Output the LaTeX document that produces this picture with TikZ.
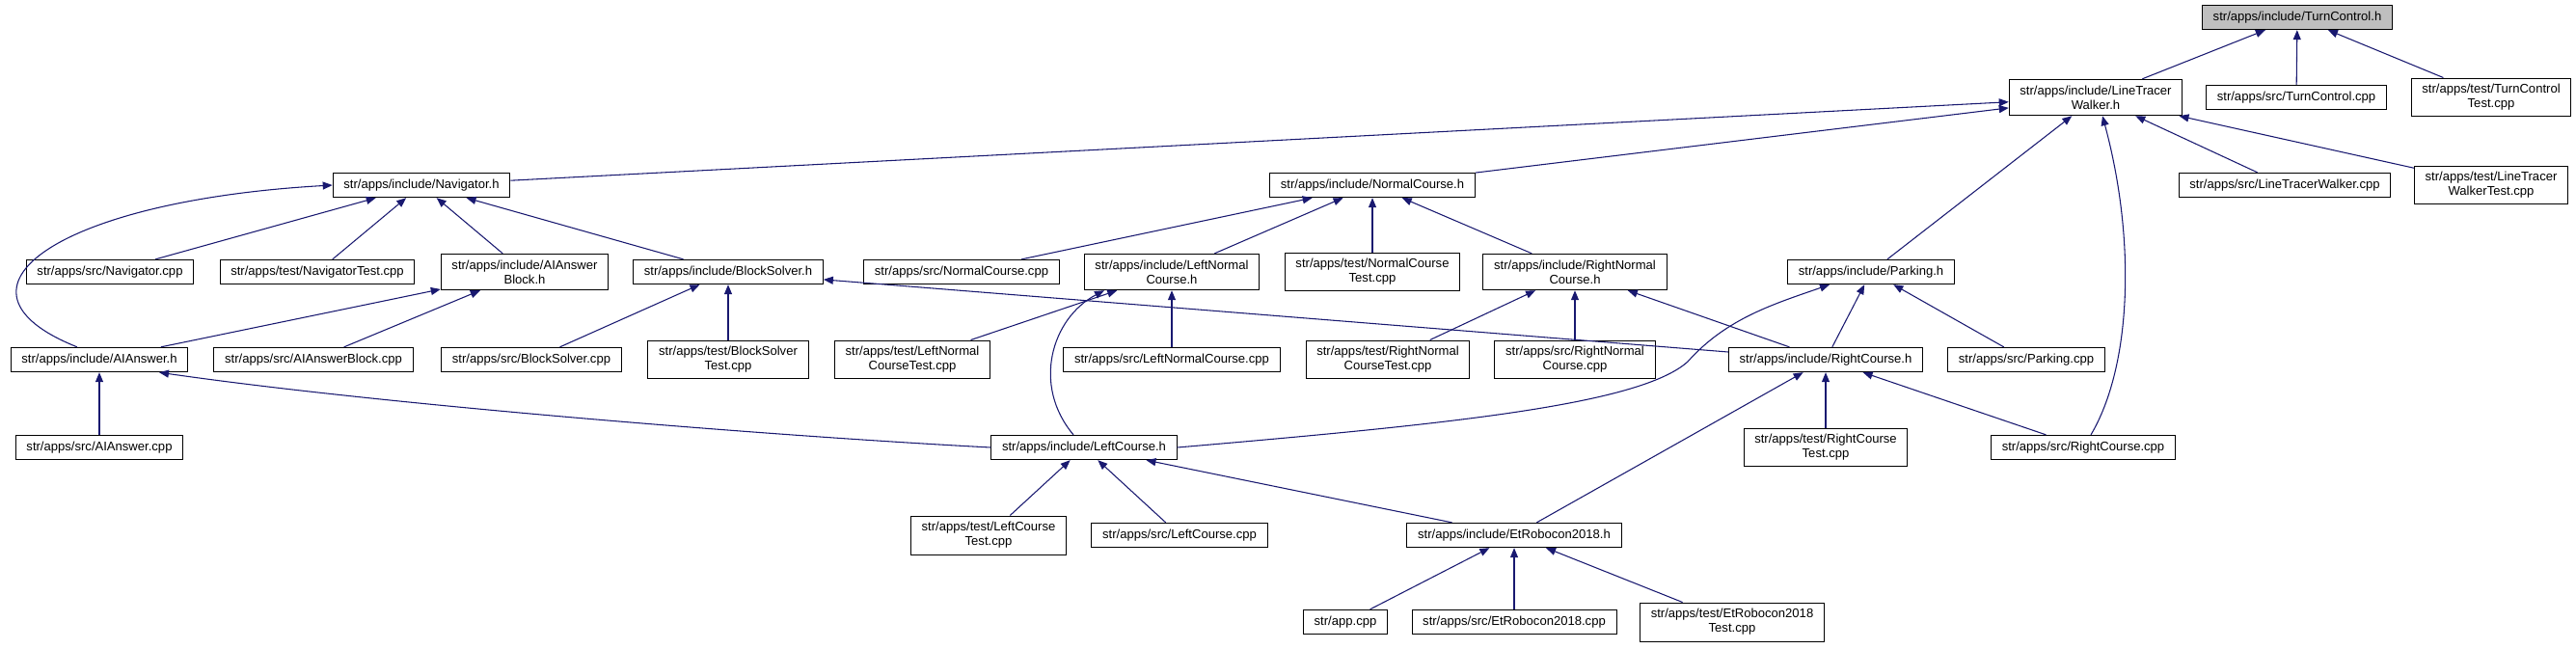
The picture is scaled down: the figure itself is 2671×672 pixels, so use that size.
\documentclass[tikz,border=0pt]{standalone}
\usepackage{fontspec}
\setmainfont{Liberation Sans}
\usetikzlibrary{arrows.meta,calc}
\definecolor{edgeblue}{HTML}{191970}
\begin{document}
\begin{tikzpicture}[x=0.75pt,y=-0.75pt,
  file/.style={draw, line width=0.75pt, fill=white, align=center, inner xsep=8.4pt, inner ysep=4.8pt, minimum height=19pt, font=\fontsize{9.8}{11.25}\selectfont},
  cur/.style={file, fill=black!25},
  incl/.style={draw=edgeblue, line width=0.8pt, <-, >={Triangle[length=7.5pt,width=6pt]}}]
\useasboundingbox (0,0) rectangle (2671,672);
\node[cur] (tc) at (2382,18) {str/apps/include/TurnControl.h};
\node[file] (ltw) at (2173,101) {str/apps/include/LineTracer\\Walker.h};
\node[file] (tccpp) at (2381,101) {str/apps/src/TurnControl.cpp};
\node[file] (tctest) at (2583,101) {str/apps/test/TurnControl\\Test.cpp};
\node[file] (nav) at (437,192) {str/apps/include/Navigator.h};
\node[file] (nc) at (1423,192) {str/apps/include/NormalCourse.h};
\node[file] (ltwcpp) at (2369,192) {str/apps/src/LineTracerWalker.cpp};
\node[file] (ltwtest) at (2583,192) {str/apps/test/LineTracer\\WalkerTest.cpp};
\node[file] (navcpp) at (114,282) {str/apps/src/Navigator.cpp};
\node[file] (navtest) at (329,282) {str/apps/test/NavigatorTest.cpp};
\node[file] (aiab) at (544,282) {str/apps/include/AIAnswer\\Block.h};
\node[file] (bs) at (755,282) {str/apps/include/BlockSolver.h};
\node[file] (nccpp) at (997,282) {str/apps/src/NormalCourse.cpp};
\node[file] (lnc) at (1215,282) {str/apps/include/LeftNormal\\Course.h};
\node[file] (nctest) at (1423,282) {str/apps/test/NormalCourse\\Test.cpp};
\node[file] (rnc) at (1633,282) {str/apps/include/RightNormal\\Course.h};
\node[file] (park) at (1940,282) {str/apps/include/Parking.h};
\node[file] (aia) at (103,373) {str/apps/include/AIAnswer.h};
\node[file] (aiabcpp) at (325,373) {str/apps/src/AIAnswerBlock.cpp};
\node[file] (bscpp) at (551,373) {str/apps/src/BlockSolver.cpp};
\node[file] (bstest) at (755,373) {str/apps/test/BlockSolver\\Test.cpp};
\node[file] (lnctest) at (946,373) {str/apps/test/LeftNormal\\CourseTest.cpp};
\node[file] (lnccpp) at (1215,373) {str/apps/src/LeftNormalCourse.cpp};
\node[file] (rnctest) at (1439,373) {str/apps/test/RightNormal\\CourseTest.cpp};
\node[file] (rnccpp) at (1633,373) {str/apps/src/RightNormal\\Course.cpp};
\node[file] (rc) at (1893,373) {str/apps/include/RightCourse.h};
\node[file] (parkcpp) at (2101,373) {str/apps/src/Parking.cpp};
\node[file] (aiacpp) at (103,464) {str/apps/src/AIAnswer.cpp};
\node[file] (lc) at (1124,464) {str/apps/include/LeftCourse.h};
\node[file] (rctest) at (1893,464) {str/apps/test/RightCourse\\Test.cpp};
\node[file] (rccpp) at (2160,464) {str/apps/src/RightCourse.cpp};
\node[file] (lctest) at (1025,555) {str/apps/test/LeftCourse\\Test.cpp};
\node[file] (lccpp) at (1223,555) {str/apps/src/LeftCourse.cpp};
\node[file] (et) at (1570,555) {str/apps/include/EtRobocon2018.h};
\node[file] (appcpp) at (1395,645) {str/app.cpp};
\node[file] (etcpp) at (1570,645) {str/apps/src/EtRobocon2018.cpp};
\node[file] (ettest) at (1796,645) {str/apps/test/EtRobocon2018\\Test.cpp};
\draw[incl] (tc) -- (ltw);
\draw[incl] (tc) -- (tccpp);
\draw[incl] (tc) -- (tctest);
\draw[incl] (ltw) -- (nav);
\draw[incl] (ltw) -- (nc);
\draw[incl] (ltw) -- (park);
\draw[incl] (ltw) -- (ltwcpp);
\draw[incl] (ltw) -- (ltwtest);
\draw[incl] ($(ltw.south)+(7,0)$) .. controls (2215,250) and (2210,380) .. ($(rccpp.north)+(8,0)$);
\draw[incl] (nav) -- (navcpp);
\draw[incl] (nav) -- (navtest);
\draw[incl] (nav) -- (aiab);
\draw[incl] (nav) -- (bs);
\draw[incl] (nav.west) .. controls (60,208) and (-70,300) .. ($(aia.north)+(-23,0)$);
\draw[incl] (nc) -- (nccpp);
\draw[incl] (nc) -- (lnc);
\draw[incl] (nc) -- (nctest);
\draw[incl] (nc) -- (rnc);
\draw[incl] (aiab) -- (aia);
\draw[incl] (aiab) -- (aiabcpp);
\draw[incl] (bs) -- (bscpp);
\draw[incl] (bs) -- (bstest);
\draw[incl] (bs) -- (rc);
\draw[incl] (lnc) -- (lnctest);
\draw[incl] (lnc) -- (lnccpp);
\draw[incl] ($(lnc.south)+(-70,0)$) .. controls (1090,330) and (1070,400) .. ($(lc.north)+(-11,0)$);
\draw[incl] (rnc) -- (rnctest);
\draw[incl] (rnc) -- (rnccpp);
\draw[incl] (rnc) -- (rc);
\draw[incl] ($(park.south)+(-43,0)$) .. controls (1840,315) and (1790,330) .. (1750,375) .. controls (1700,420) and (1500,440) .. (lc.east);
\draw[incl] (park) -- (rc);
\draw[incl] (park) -- (parkcpp);
\draw[incl] (aia) -- (aiacpp);
\draw[incl] ($(aia.south)+(62,0)$) .. controls (400,420) and (800,452) .. (lc.west);
\draw[incl] (rc) -- (rctest);
\draw[incl] (rc) -- (rccpp);
\draw[incl] (rc) -- (et);
\draw[incl] (lc) -- (lctest);
\draw[incl] (lc) -- (lccpp);
\draw[incl] (lc) -- (et);
\draw[incl] (et) -- (appcpp);
\draw[incl] (et) -- (etcpp);
\draw[incl] (et) -- (ettest);
\end{tikzpicture}
\end{document}
